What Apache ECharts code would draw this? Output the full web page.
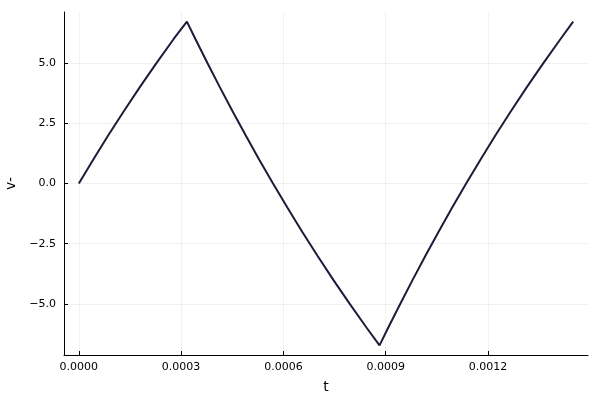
<!DOCTYPE html>
<html>
<head>
<meta charset="utf-8">
<script src="https://cdn.jsdelivr.net/npm/echarts@6/dist/echarts.min.js"></script>
<style>html,body{margin:0;padding:0;background:#fff;}#chart{width:600px;height:400px;}</style>
</head>
<body>
<div id="chart"></div>
<script>
// Values
const tValues = [
  0, 0.0000425, 0.0000864, 0.0001319, 0.0001789, 0.0002276, 0.0002782, 0.000317,
  0.0003419, 0.0003772, 0.0004135, 0.0004509, 0.0004893, 0.0005288, 0.0005696, 0.0006116,
  0.0006551, 0.0007, 0.0007465, 0.0007947, 0.0008447, 0.000882,
  0.000907, 0.0009426, 0.0009791, 0.0010167, 0.0010553, 0.0010951, 0.0011361, 0.0011784,
  0.0012221, 0.0012673, 0.0013141, 0.0013626, 0.0014129, 0.00145
];
const vValues = [
  0, 1, 2, 3, 4, 5, 6, 6.72,
  6, 5, 4, 3, 2, 1, 0, -1,
  -2, -3, -4, -5, -6, -6.72,
  -6, -5, -4, -3, -2, -1, 0, 1,
  2, 3, 4, 5, 6, 6.72
];
const xTicks = [0, 0.0003, 0.0006, 0.0009, 0.0012];
const yTicks = [-5.0, -2.5, 0, 2.5, 5.0];
const xRange = [-0.0000435, 0.0014935];
const yRange = [-7.12, 7.12];

const seriesData = tValues.map((t, i) => [t, vValues[i]]);
const fontFamily = "'DejaVu Sans', sans-serif";
const minus = s => s.replace('-', '\u2212');

const chart = echarts.init(document.getElementById('chart'), null, {renderer: 'canvas'});
chart.setOption({
  animation: false,
  backgroundColor: '#ffffff',
  grid: {left: 64, right: 12, top: 12, bottom: 45, containLabel: false, outerBoundsMode: 'none'},
  xAxis: {
    type: 'value',
    min: xRange[0], max: xRange[1],
    name: 't', nameLocation: 'middle', nameGap: 25,
    nameTextStyle: {fontFamily, fontSize: 14, color: '#000'},
    axisLine: {show: true, onZero: false, lineStyle: {color: '#000', width: 1}},
    axisTick: {show: true, inside: true, length: 4, customValues: xTicks, lineStyle: {color: '#000'}},
    axisLabel: {customValues: xTicks, fontFamily, fontSize: 11, color: '#000', margin: 7,
      formatter: v => minus(v.toFixed(4))},
    splitLine: {show: true, lineStyle: {color: 'rgba(0,0,0,0.1)', width: 0.5}}
  },
  yAxis: {
    type: 'value',
    min: yRange[0], max: yRange[1],
    name: 'v-', nameLocation: 'middle', nameGap: 46, nameRotate: 90,
    nameTextStyle: {fontFamily, fontSize: 14, color: '#000'},
    axisLine: {show: true, onZero: false, lineStyle: {color: '#000', width: 1}},
    axisTick: {show: true, inside: true, length: 4, customValues: yTicks, lineStyle: {color: '#000'}},
    axisLabel: {customValues: yTicks, fontFamily, fontSize: 11, color: '#000', margin: 8,
      formatter: v => minus(v.toFixed(1))},
    splitLine: {show: true, lineStyle: {color: 'rgba(0,0,0,0.1)', width: 0.5}}
  },
  series: [{
    type: 'line',
    data: seriesData,
    showSymbol: false,
    smooth: false,
    lineStyle: {color: '#1d1b3a', width: 2},
    itemStyle: {color: '#1d1b3a'}
  }]
});
</script>
</body>
</html>
